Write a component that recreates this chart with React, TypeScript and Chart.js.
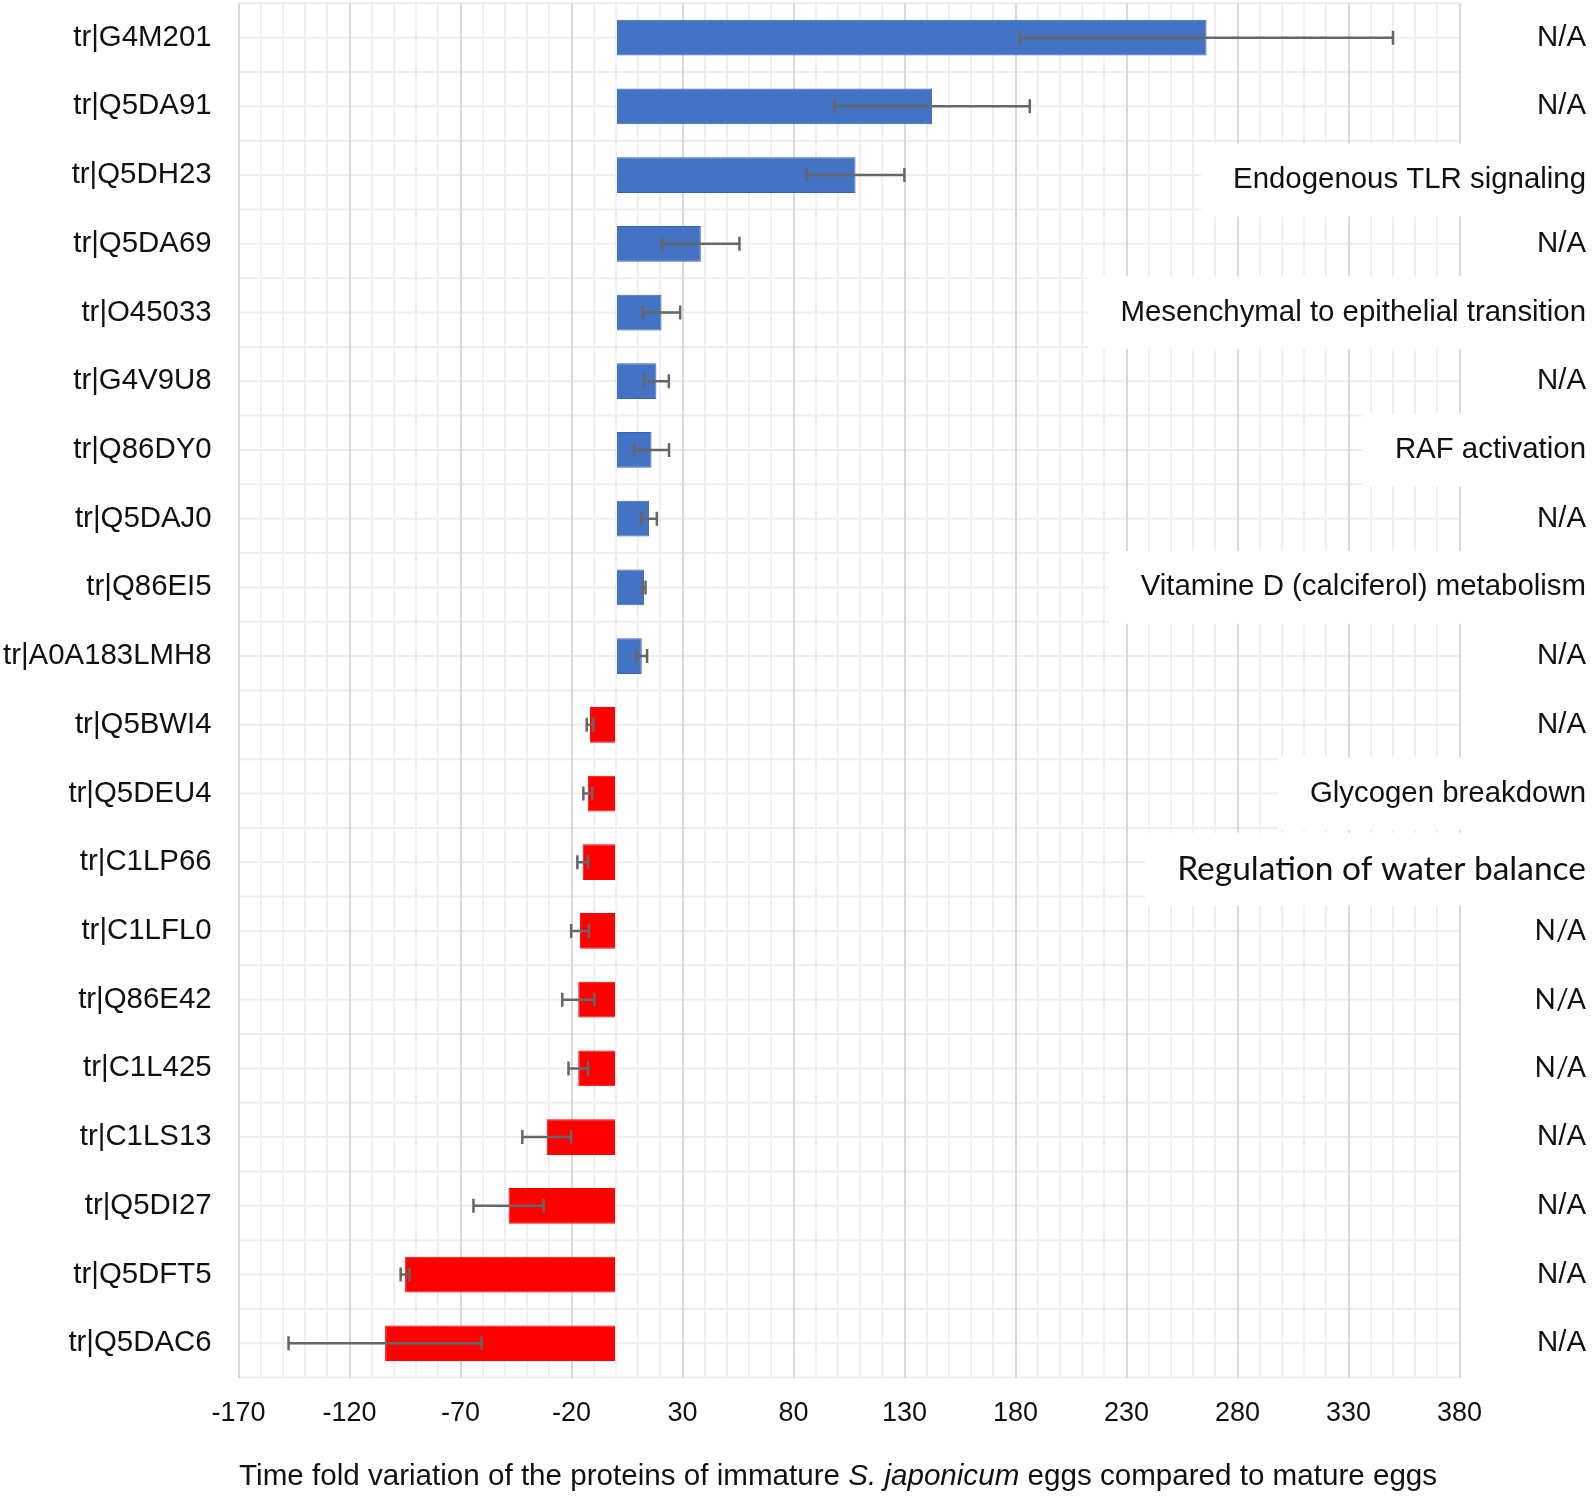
import React, { useEffect, useRef } from 'react';
import { Chart, registerables } from 'chart.js';

Chart.register(...registerables);

// ---------------- data ----------------
const proteins = [
  'tr|G4M201', 'tr|Q5DA91', 'tr|Q5DH23', 'tr|Q5DA69', 'tr|O45033',
  'tr|G4V9U8', 'tr|Q86DY0', 'tr|Q5DAJ0', 'tr|Q86EI5', 'tr|A0A183LMH8',
  'tr|Q5BWI4', 'tr|Q5DEU4', 'tr|C1LP66', 'tr|C1LFL0', 'tr|Q86E42',
  'tr|C1L425', 'tr|C1LS13', 'tr|Q5DI27', 'tr|Q5DFT5', 'tr|Q5DAC6',
];

const foldChange = [
  266, 142.4, 107.9, 38.2, 20.5,
  18.2, 16.0, 14.9, 12.6, 11.6,
  -11.7, -12.7, -15.0, -16.2, -17.0,
  -17.0, -31.2, -48.4, -95.0, -104.0,
];

const errorMargin = [
  84, 44, 22, 17.4, 8.4,
  5.6, 7.9, 3.5, 0.7, 2.4,
  1.5, 2.0, 2.4, 4.0, 7.2,
  4.4, 11.0, 15.8, 2.0, 43.5,
];

const pathways = [
  'N/A', 'N/A', 'Endogenous TLR signaling', 'N/A', 'Mesenchymal to epithelial transition',
  'N/A', 'RAF activation', 'N/A', 'Vitamine D (calciferol) metabolism', 'N/A',
  'N/A', 'Glycogen breakdown', 'Regulation of water balance', 'N/A', 'N/A',
  'N/A', 'N/A', 'N/A', 'N/A', 'N/A',
];

const xMin = -170;
const xMax = 380;
const xMajorStep = 50;
const xMinorStep = 10;

const titleParts = [
  { text: 'Time fold variation of the proteins of immature ', italic: false },
  { text: 'S. japonicum', italic: true },
  { text: ' eggs compared to mature eggs', italic: false },
];

// ---------------- layout / style ----------------
const W = 1595;
const H = 1497;
const PLOT = { left: 238.6, right: 1459.6, top: 3.3, bottom: 1377.6 };
const SANS = '"Liberation Sans", Arial, sans-serif';
const CALIBRI_LIKE = 'Lato, "Open Sans", sans-serif';
const calibriRows = new Set([12, 13, 14, 15]);
const labelNudge: Record<number, number> = { 2: 5, 12: 7 };
const BLUE = '#4472C4';
const RED = '#FF0000';

const rowGridPlugin = {
  id: 'rowGrid',
  beforeDraw(chart: any) {
    const { ctx, chartArea, scales } = chart;
    const y = scales.y;
    const step = y.getPixelForValue(1) - y.getPixelForValue(0);
    ctx.save();
    ctx.strokeStyle = '#eeeeee';
    ctx.lineWidth = 2;
    ctx.beginPath();
    for (let i = 0; i < proteins.length; i++) {
      const c = y.getPixelForValue(i);
      for (const yy of [c - step / 2, c]) {
        ctx.moveTo(chartArea.left, yy);
        ctx.lineTo(chartArea.right, yy);
      }
    }
    const last = y.getPixelForValue(proteins.length - 1) + step / 2;
    ctx.moveTo(chartArea.left, last);
    ctx.lineTo(chartArea.right, last);
    ctx.stroke();
    ctx.restore();
  },
};

const errorBarPlugin = {
  id: 'errorBars',
  afterDatasetsDraw(chart: any) {
    const { ctx, scales } = chart;
    const x = scales.x;
    const y = scales.y;
    ctx.save();
    ctx.strokeStyle = '#666666';
    ctx.lineWidth = 2.5;
    const cap = 7;
    foldChange.forEach((v, i) => {
      const e = errorMargin[i];
      const yc = y.getPixelForValue(i);
      const x1 = x.getPixelForValue(v - e);
      const x2 = x.getPixelForValue(v + e);
      ctx.beginPath();
      ctx.moveTo(x1, yc);
      ctx.lineTo(x2, yc);
      ctx.moveTo(x1, yc - cap);
      ctx.lineTo(x1, yc + cap);
      ctx.moveTo(x2, yc - cap);
      ctx.lineTo(x2, yc + cap);
      ctx.stroke();
    });
    ctx.restore();
  },
};

const annotationPlugin = {
  id: 'pathwayLabels',
  afterDraw(chart: any) {
    const { ctx, scales, width, chartArea } = chart;
    const y = scales.y;
    const step = y.getPixelForValue(1) - y.getPixelForValue(0);
    const rightX = width - 9;
    ctx.save();
    ctx.textAlign = 'right';
    ctx.textBaseline = 'middle';
    pathways.forEach((label, i) => {
      const cal = calibriRows.has(i);
      const family = cal ? CALIBRI_LIKE : SANS;
      const size = cal ? (label === 'N/A' ? 28 : 33.5) : 29.4;
      ctx.font = `${size}px ${family}`;
      const yc = y.getPixelForValue(i) + (labelNudge[i] || 0);
      const tw = ctx.measureText(label).width;
      const left = rightX - tw;
      if (left - 35 < chartArea.right) {
        ctx.fillStyle = '#ffffff';
        ctx.fillRect(left - 32, yc - step / 2 - 2, width - (left - 32), step + 4);
      }
      ctx.fillStyle = '#111111';
      ctx.fillText(label, rightX, yc);
    });

    // axis title with italic species name
    const fontSize = 29.6;
    const parts = titleParts.map((p) => {
      const f = `${p.italic ? 'italic ' : ''}${fontSize}px ${SANS}`;
      ctx.font = f;
      return { ...p, f, w: ctx.measureText(p.text).width };
    });
    const total = parts.reduce((s, p) => s + p.w, 0);
    let tx = (chartArea.left + chartArea.right) / 2 - 11 - total / 2;
    const ty = H - 20;
    ctx.textAlign = 'left';
    ctx.fillStyle = '#111111';
    parts.forEach((p) => {
      ctx.font = p.f;
      ctx.fillText(p.text, tx, ty);
      tx += p.w;
    });
    ctx.restore();
  },
};

export default function App() {
  const ref = useRef<HTMLCanvasElement | null>(null);

  useEffect(() => {
    if (!ref.current) return;
    const chart = new Chart(ref.current, {
      type: 'bar',
      data: {
        labels: proteins,
        datasets: [
          {
            data: foldChange,
            backgroundColor: foldChange.map((v) => (v >= 0 ? BLUE : RED)),
            borderColor: foldChange.map((v) => (v >= 0 ? '#3b63ad' : RED)),
            borderWidth: 1,
            barPercentage: 0.52,
            categoryPercentage: 1,
          },
        ],
      },
      options: {
        indexAxis: 'y',
        animation: false,
        responsive: false,
        devicePixelRatio: 1,
        layout: {
          padding: { top: PLOT.top, right: W - PLOT.right, left: 0, bottom: 0 },
        },
        plugins: {
          legend: { display: false },
          tooltip: { enabled: false },
          title: { display: false },
        },
        scales: {
          x: {
            type: 'linear',
            min: xMin,
            max: xMax,
            afterFit: (scale: any) => {
              scale.height = H - PLOT.bottom;
              scale.paddingLeft = 0;
              scale.paddingRight = 0;
            },
            ticks: {
              stepSize: xMinorStep,
              autoSkip: false,
              maxRotation: 0,
              padding: 20,
              color: '#111111',
              font: { family: SANS, size: 27 },
              callback: (value: any) => {
                const v = Math.round(Number(value));
                return (v - xMin) % xMajorStep === 0 ? String(v) : '';
              },
            },
            grid: {
              drawTicks: false,
              lineWidth: 2,
              color: (c: any) => {
                const v = Math.round(c.tick ? c.tick.value : 0);
                return (v - xMin) % xMajorStep === 0 ? '#d9d9d9' : '#efefef';
              },
            },
            border: { display: false },
          },
          y: {
            type: 'category',
            afterFit: (scale: any) => {
              scale.width = PLOT.left;
              scale.paddingTop = 0;
              scale.paddingBottom = 0;
            },
            ticks: {
              padding: 27,
              color: '#111111',
              font: { family: SANS, size: 29.4 },
              autoSkip: false,
            },
            grid: { display: false, drawTicks: false },
            border: { display: false },
          },
        },
      },
      plugins: [rowGridPlugin, errorBarPlugin, annotationPlugin],
    });
    return () => chart.destroy();
  }, []);

  return (
    <div style={{ position: 'absolute', left: 0, top: 0, width: W, height: H, background: '#ffffff' }}>
      <canvas ref={ref} width={W} height={H} style={{ width: W, height: H, display: 'block' }} />
    </div>
  );
}
